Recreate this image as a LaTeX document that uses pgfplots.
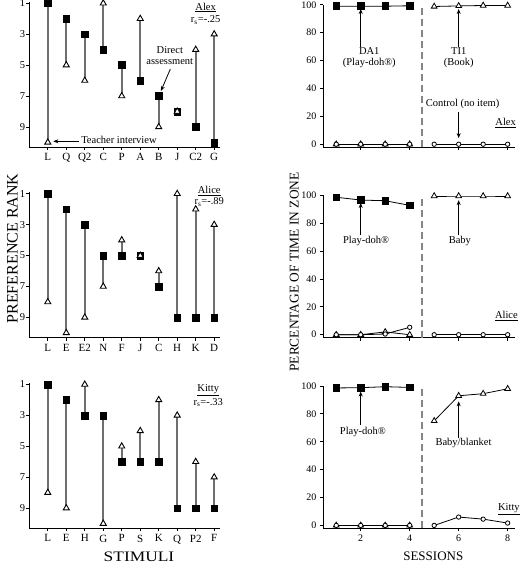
\documentclass[border=0pt]{standalone}
\usepackage{fontspec}
\setmainfont{Liberation Serif}
\usepackage{pgfplots}
\pgfplotsset{compat=1.18}
\usepackage{pgfplotstable}
\usetikzlibrary{arrows.meta}

\definecolor{linkgray}{HTML}{6E6E6E}
\definecolor{dashgray}{HTML}{868686}

% preference ranks: x = stimulus position, sq = direct assessment, tri = teacher interview
\pgfplotstableread{
x sq tri
1 1 10
2 2 5
3 3 6
4 4 1
5 5 7
6 6 2
7 7 9
8 8 8
9 9 4
10 10 3
}\alexrank
\pgfplotstableread{
x sq tri
1 1 8
2 2 10
3 3 9
4 5 7
5 5 4
6 5 5
7 7 6
8 9 1
9 9 2
10 9 3
}\alicerank
\pgfplotstableread{
x sq tri
1 1 8
2 2 9
3 3 1
4 3 10
5 6 5
6 6 4
7 6 2
8 9 3
9 9 6
10 9 7
}\kittyrank

\pgfplotsset{
  rankax/.style={anchor=south west, scale only axis, width=191pt, height=145.3pt,
    xmin=0, xmax=10.33, ymin=0.9, ymax=10.3, y dir=reverse,
    axis x line*=bottom, axis y line*=left,
    axis line style={line width=0.9pt},
    ytick={1,3,5,7,9}, xtick={1,...,10},
    tick align=outside, major tick length=3pt, tick style={black, line width=0.8pt},
    clip=false, /pgf/number format/assume math mode=true,
    yticklabel style={font=\fontsize{10.5}{12}\selectfont, inner sep=1pt},
    xticklabel style={font=\fontsize{11}{13}\selectfont}},
  link/.style={quiver={u=0, v=\thisrow{tri}-\thisrow{sq}}, draw=linkgray, line width=1.6pt, -},
  mysq/.style={only marks, mark=square*, mark size=3.4pt, mark options={fill=black, draw=black}},
  mytri/.style={only marks, mark=triangle*, mark size=3.5pt, mark options={fill=white, draw=black, line width=0.9pt}},
  pctax/.style={anchor=south west, scale only axis, width=192pt, height=142.2pt,
    xmin=0.46, xmax=8.3, ymin=-2, ymax=100,
    axis x line*=bottom, axis y line*=left,
    axis line style={line width=0.9pt},
    ytick={0,20,40,60,80,100}, xtick={2,4,6,8},
    tick align=outside, major tick length=3pt, tick style={black, line width=0.8pt},
    clip=false, /pgf/number format/assume math mode=true,
    tick label style={font=\fontsize{10}{12}\selectfont}},
  dsq/.style={black, line width=0.8pt, mark=square*, mark size=3.3pt, mark options={fill=black, solid}},
  dtri/.style={black, line width=0.8pt, mark=triangle*, mark size=3.3pt, mark options={fill=white, solid}},
  dcirc/.style={black, line width=0.8pt, mark=*, mark size=2.2pt, mark options={fill=white, solid}},
  phase/.style={dashgray, line width=1.3pt, dash pattern=on 7pt off 4pt, no markers},
}
\tikzset{
  ann/.style={font=\fontsize{10.5}{11.5}\selectfont, align=center, inner sep=0pt},
  arr/.style={-{Stealth[length=5pt,width=4pt]}, line width=0.8pt, black},
}

\begin{document}
\begin{tikzpicture}
\useasboundingbox (0,0) rectangle (520pt,-563pt);

% ---------- Alex ranks ----------
\begin{axis}[rankax, at={(29.3pt,-147pt)}, xticklabels={L,Q,Q2,C,P,A,B,J,C2,G}]
\addplot[link] table[x=x, y=sq] {\alexrank};
\addplot[mysq] table[x=x, y=sq] {\alexrank};
\addplot[mytri] table[x=x, y=tri] {\alexrank};
\node[ann] at (axis cs:9.54,1.28) {\underline{Alex}};
\node[ann] at (axis cs:9.54,2.1) {r\textsubscript{s}=-.25};
\node[ann, anchor=west] at (axis cs:2.8,9.82) {Teacher interview};
\draw[arr] (axis cs:2.7,9.93) -- (axis cs:1.3,9.93);
\node[ann] at (axis cs:7.6,4.4) {Direct\\assessment};
\draw[arr] (axis cs:7.63,5.25) -- (axis cs:7.12,6.67);
\end{axis}

% ---------- Alice ranks ----------
\begin{axis}[rankax, at={(29.3pt,-337.5pt)}, xticklabels={L,E,E2,N,F,J,C,H,K,D}]
\addplot[link] table[x=x, y=sq] {\alicerank};
\addplot[mysq] table[x=x, y=sq] {\alicerank};
\addplot[mytri] table[x=x, y=tri] {\alicerank};
\node[ann] at (axis cs:9.73,0.8) {\underline{Alice}};
\node[ann] at (axis cs:9.73,1.52) {r\textsubscript{s}=-.89};
\end{axis}

% ---------- Kitty ranks ----------
\begin{axis}[rankax, at={(29.3pt,-528.2pt)}, xticklabels={L,E,H,G,P,S,K,Q,P2,F}]
\addplot[link] table[x=x, y=sq] {\kittyrank};
\addplot[mysq] table[x=x, y=sq] {\kittyrank};
\addplot[mytri] table[x=x, y=tri] {\kittyrank};
\node[ann] at (axis cs:9.68,1.36) {\underline{Kitty}};
\node[ann] at (axis cs:9.68,2.18) {r\textsubscript{s}=-.33};
\end{axis}

% ---------- Alex sessions ----------
\begin{axis}[pctax, at={(323pt,-147pt)}, xticklabels={}]
\addplot[phase] coordinates {(4.5,-2) (4.5,100)};
\addplot[dsq] coordinates {(1,99) (2,99) (3,99) (4,99.3)};
\addplot[dtri] coordinates {(5,98.8) (6,99.2) (7,99.5) (8,99.5)};
\addplot[dtri] coordinates {(1,0) (2,0) (3,0) (4,0)};
\addplot[dcirc] coordinates {(1,0) (2,0) (3,0) (4,0)};
\addplot[dcirc] coordinates {(5,0) (6,0) (7,0) (8,0)};
\node[ann] at (axis cs:2.35,62) {DA1\\(Play-doh\textregistered)};
\draw[arr] (axis cs:2,70) -- (axis cs:2,97);
\node[ann] at (axis cs:6,62) {TI1\\(Book)};
\draw[arr] (axis cs:6,70) -- (axis cs:6,97);
\node[ann] at (axis cs:6.16,28.8) {Control (no item)};
\draw[arr] (axis cs:6,23) -- (axis cs:6,4.4);
\node[ann] at (axis cs:7.92,15.4) {\underline{Alex}};
\end{axis}

% ---------- Alice sessions ----------
\begin{axis}[pctax, at={(323pt,-337.5pt)}, xticklabels={}]
\addplot[phase] coordinates {(4.5,-2) (4.5,100)};
\addplot[dsq] coordinates {(1,98.6) (2,96.6) (3,96.1) (4,92.8)};
\addplot[dtri] coordinates {(5,99.5) (6,99.5) (7,99.5) (8,99.5)};
\addplot[dtri] coordinates {(1,0) (2,0) (3,2) (4,0)};
\addplot[dcirc] coordinates {(1,0) (2,0) (3,0.5) (4,5.3)};
\addplot[dcirc] coordinates {(5,0) (6,0) (7,0) (8,0)};
\node[ann] at (axis cs:2.22,67.2) {Play-doh\textregistered};
\draw[arr] (axis cs:2,71.5) -- (axis cs:2,94.5);
\node[ann] at (axis cs:6.05,67.2) {Baby};
\draw[arr] (axis cs:6,71.5) -- (axis cs:6,96.5);
\node[ann] at (axis cs:7.95,13.4) {\underline{Alice}};
\end{axis}

% ---------- Kitty sessions ----------
\begin{axis}[pctax, at={(323pt,-528.2pt)}]
\addplot[phase] coordinates {(4.5,-2) (4.5,100)};
\addplot[dsq] coordinates {(1,98.6) (2,98.8) (3,99.5) (4,99)};
\addplot[dtri] coordinates {(5,75) (6,93) (7,94.5) (8,98)};
\addplot[dtri] coordinates {(1,0) (2,0) (3,0) (4,0)};
\addplot[dcirc] coordinates {(1,0) (2,0) (3,0) (4,0)};
\addplot[dcirc] coordinates {(5,0) (6,6) (7,4.5) (8,1.7)};
\node[ann] at (axis cs:2.09,67) {Play-doh\textregistered};
\draw[arr] (axis cs:2,72) -- (axis cs:2,96);
\node[ann] at (axis cs:6.2,59.3) {Baby/blanket};
\draw[arr] (axis cs:6,62.7) -- (axis cs:6,89);
\node[ann] at (axis cs:8.05,11.8) {\underline{Kitty}};
\end{axis}

% ---------- axis titles ----------
\node[rotate=90, anchor=base, font=\fontsize{16}{18}\selectfont, inner sep=0pt] at (17.5pt,-248.5pt) {PREFERENCE RANK};
\node[anchor=base, xscale=1.2, font=\fontsize{14.5}{16}\selectfont, inner sep=0pt] at (139pt,-561pt) {STIMULI};
\node[anchor=base, font=\fontsize{13}{15}\selectfont, inner sep=0pt] at (433.3pt,-560.5pt) {SESSIONS};
\node[rotate=90, anchor=base, font=\fontsize{13.4}{15}\selectfont, inner sep=0pt] at (298.5pt,-272pt) {PERCENTAGE OF TIME IN ZONE};
\end{tikzpicture}
\end{document}
